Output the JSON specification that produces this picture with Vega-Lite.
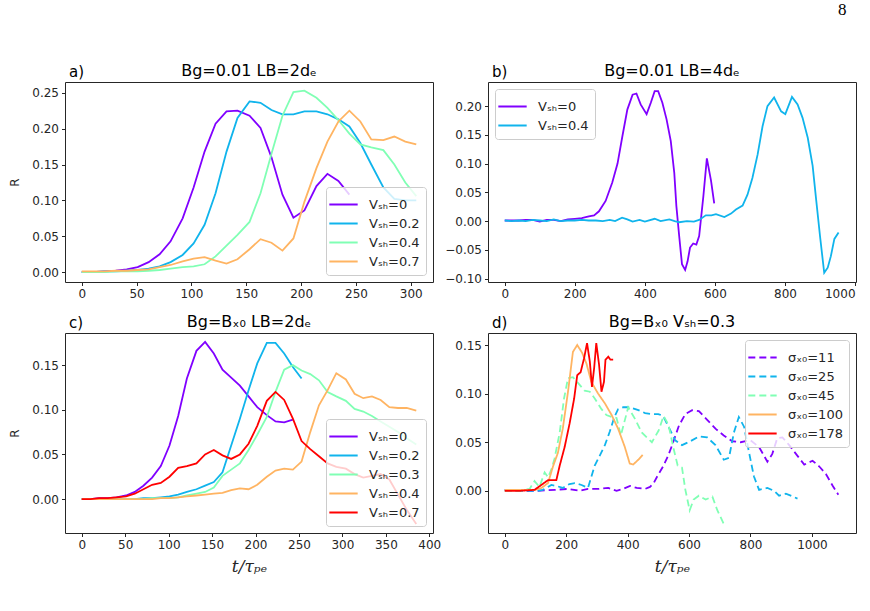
{
"$schema": "https://vega.github.io/schema/vega-lite/v6.json",
"background": "white",
"padding": {"left": 8, "top": 0, "right": 0, "bottom": 0},
"title": {"text": "8", "anchor": "end", "frame": "bounds", "font": "Liberation Serif", "fontSize": 17, "fontWeight": "normal", "color": "black", "offset": 44, "dx": -10},
"config": {
 "view": {"stroke": "#262626", "strokeWidth": 1},
 "axis": {"domain": false, "grid": false, "tickColor": "#262626", "tickSize": 3.5, "tickCount": 12, "labelFont": "DejaVu Sans", "labelFontSize": 12, "labelColor": "#262626", "labelPadding": 3, "titleFont": "DejaVu Sans", "titleFontSize": 12, "titleFontWeight": "normal", "titleColor": "#262626"},
 "legend": {"fillColor": "rgba(255,255,255,0.8)", "strokeColor": "#cccccc", "cornerRadius": 3, "padding": 6, "labelFont": "DejaVu Sans", "labelFontSize": 13, "labelColor": "#262626", "symbolType": "M-1.35,0H1.35", "symbolSize": 441, "symbolStrokeWidth": 2, "rowPadding": 0, "labelOffset": 14, "offset": 7},
 "title": {"font": "DejaVu Sans", "fontSize": 16, "fontWeight": "normal", "color": "black", "frame": "group", "offset": -14},
 "text": {"font": "DejaVu Sans", "fontSize": 15, "color": "black"}
},
"columns": 2,
"spacing": {"row": 51, "column": 55},
"bounds": "flush",
"resolve": {"scale": {"color": "independent", "strokeDash": "independent"}, "legend": {"color": "independent", "strokeDash": "independent"}},
"datasets": {
"a": [
{"s":"Vₛₕ=0","t":0,"R":0.000},{"s":"Vₛₕ=0","t":10,"R":0.000},{"s":"Vₛₕ=0","t":20,"R":0.001},{"s":"Vₛₕ=0","t":31,"R":0.002},{"s":"Vₛₕ=0","t":41,"R":0.004},{"s":"Vₛₕ=0","t":51,"R":0.007},{"s":"Vₛₕ=0","t":61,"R":0.014},{"s":"Vₛₕ=0","t":71,"R":0.025},{"s":"Vₛₕ=0","t":81,"R":0.043},{"s":"Vₛₕ=0","t":92,"R":0.075},{"s":"Vₛₕ=0","t":102,"R":0.118},{"s":"Vₛₕ=0","t":112,"R":0.168},{"s":"Vₛₕ=0","t":122,"R":0.207},{"s":"Vₛₕ=0","t":132,"R":0.224},{"s":"Vₛₕ=0","t":142,"R":0.225},{"s":"Vₛₕ=0","t":153,"R":0.218},{"s":"Vₛₕ=0","t":163,"R":0.201},{"s":"Vₛₕ=0","t":173,"R":0.160},{"s":"Vₛₕ=0","t":183,"R":0.108},{"s":"Vₛₕ=0","t":193,"R":0.076},{"s":"Vₛₕ=0","t":203,"R":0.086},{"s":"Vₛₕ=0","t":214,"R":0.120},{"s":"Vₛₕ=0","t":224,"R":0.137},{"s":"Vₛₕ=0","t":234,"R":0.127},{"s":"Vₛₕ=0","t":244,"R":0.108},
{"s":"Vₛₕ=0.2","t":0,"R":0.000},{"s":"Vₛₕ=0.2","t":10,"R":0.000},{"s":"Vₛₕ=0.2","t":20,"R":0.001},{"s":"Vₛₕ=0.2","t":31,"R":0.001},{"s":"Vₛₕ=0.2","t":41,"R":0.002},{"s":"Vₛₕ=0.2","t":51,"R":0.003},{"s":"Vₛₕ=0.2","t":61,"R":0.005},{"s":"Vₛₕ=0.2","t":71,"R":0.008},{"s":"Vₛₕ=0.2","t":81,"R":0.014},{"s":"Vₛₕ=0.2","t":92,"R":0.024},{"s":"Vₛₕ=0.2","t":102,"R":0.040},{"s":"Vₛₕ=0.2","t":112,"R":0.066},{"s":"Vₛₕ=0.2","t":122,"R":0.110},{"s":"Vₛₕ=0.2","t":132,"R":0.168},{"s":"Vₛₕ=0.2","t":142,"R":0.215},{"s":"Vₛₕ=0.2","t":153,"R":0.238},{"s":"Vₛₕ=0.2","t":163,"R":0.236},{"s":"Vₛₕ=0.2","t":173,"R":0.226},{"s":"Vₛₕ=0.2","t":183,"R":0.220},{"s":"Vₛₕ=0.2","t":193,"R":0.220},{"s":"Vₛₕ=0.2","t":203,"R":0.224},{"s":"Vₛₕ=0.2","t":214,"R":0.224},{"s":"Vₛₕ=0.2","t":224,"R":0.220},{"s":"Vₛₕ=0.2","t":234,"R":0.213},{"s":"Vₛₕ=0.2","t":244,"R":0.203},{"s":"Vₛₕ=0.2","t":254,"R":0.180},{"s":"Vₛₕ=0.2","t":264,"R":0.150},{"s":"Vₛₕ=0.2","t":275,"R":0.118},{"s":"Vₛₕ=0.2","t":285,"R":0.102},{"s":"Vₛₕ=0.2","t":295,"R":0.100},{"s":"Vₛₕ=0.2","t":305,"R":0.100},
{"s":"Vₛₕ=0.4","t":0,"R":0.000},{"s":"Vₛₕ=0.4","t":10,"R":0.000},{"s":"Vₛₕ=0.4","t":20,"R":0.000},{"s":"Vₛₕ=0.4","t":31,"R":0.001},{"s":"Vₛₕ=0.4","t":41,"R":0.001},{"s":"Vₛₕ=0.4","t":51,"R":0.001},{"s":"Vₛₕ=0.4","t":61,"R":0.002},{"s":"Vₛₕ=0.4","t":71,"R":0.003},{"s":"Vₛₕ=0.4","t":81,"R":0.005},{"s":"Vₛₕ=0.4","t":92,"R":0.007},{"s":"Vₛₕ=0.4","t":102,"R":0.008},{"s":"Vₛₕ=0.4","t":112,"R":0.011},{"s":"Vₛₕ=0.4","t":122,"R":0.022},{"s":"Vₛₕ=0.4","t":132,"R":0.037},{"s":"Vₛₕ=0.4","t":142,"R":0.052},{"s":"Vₛₕ=0.4","t":153,"R":0.070},{"s":"Vₛₕ=0.4","t":163,"R":0.110},{"s":"Vₛₕ=0.4","t":173,"R":0.165},{"s":"Vₛₕ=0.4","t":183,"R":0.218},{"s":"Vₛₕ=0.4","t":193,"R":0.251},{"s":"Vₛₕ=0.4","t":203,"R":0.253},{"s":"Vₛₕ=0.4","t":214,"R":0.243},{"s":"Vₛₕ=0.4","t":224,"R":0.229},{"s":"Vₛₕ=0.4","t":234,"R":0.212},{"s":"Vₛₕ=0.4","t":244,"R":0.193},{"s":"Vₛₕ=0.4","t":254,"R":0.178},{"s":"Vₛₕ=0.4","t":264,"R":0.174},{"s":"Vₛₕ=0.4","t":275,"R":0.170},{"s":"Vₛₕ=0.4","t":285,"R":0.150},{"s":"Vₛₕ=0.4","t":295,"R":0.125},{"s":"Vₛₕ=0.4","t":305,"R":0.106},
{"s":"Vₛₕ=0.7","t":0,"R":0.001},{"s":"Vₛₕ=0.7","t":10,"R":0.001},{"s":"Vₛₕ=0.7","t":20,"R":0.001},{"s":"Vₛₕ=0.7","t":31,"R":0.002},{"s":"Vₛₕ=0.7","t":41,"R":0.002},{"s":"Vₛₕ=0.7","t":51,"R":0.003},{"s":"Vₛₕ=0.7","t":61,"R":0.004},{"s":"Vₛₕ=0.7","t":71,"R":0.007},{"s":"Vₛₕ=0.7","t":81,"R":0.010},{"s":"Vₛₕ=0.7","t":92,"R":0.015},{"s":"Vₛₕ=0.7","t":102,"R":0.019},{"s":"Vₛₕ=0.7","t":112,"R":0.021},{"s":"Vₛₕ=0.7","t":122,"R":0.016},{"s":"Vₛₕ=0.7","t":132,"R":0.012},{"s":"Vₛₕ=0.7","t":142,"R":0.018},{"s":"Vₛₕ=0.7","t":153,"R":0.032},{"s":"Vₛₕ=0.7","t":163,"R":0.046},{"s":"Vₛₕ=0.7","t":173,"R":0.041},{"s":"Vₛₕ=0.7","t":183,"R":0.030},{"s":"Vₛₕ=0.7","t":193,"R":0.047},{"s":"Vₛₕ=0.7","t":203,"R":0.098},{"s":"Vₛₕ=0.7","t":214,"R":0.145},{"s":"Vₛₕ=0.7","t":224,"R":0.182},{"s":"Vₛₕ=0.7","t":234,"R":0.210},{"s":"Vₛₕ=0.7","t":244,"R":0.225},{"s":"Vₛₕ=0.7","t":254,"R":0.210},{"s":"Vₛₕ=0.7","t":264,"R":0.185},{"s":"Vₛₕ=0.7","t":275,"R":0.184},{"s":"Vₛₕ=0.7","t":285,"R":0.189},{"s":"Vₛₕ=0.7","t":295,"R":0.182},{"s":"Vₛₕ=0.7","t":305,"R":0.178}
],
"b": [
{"s":"Vₛₕ=0","t":0,"R":0.001},{"s":"Vₛₕ=0","t":20,"R":0.001},{"s":"Vₛₕ=0","t":40,"R":0.001},{"s":"Vₛₕ=0","t":60,"R":0.002},{"s":"Vₛₕ=0","t":80,"R":0.002},{"s":"Vₛₕ=0","t":100,"R":-0.001},{"s":"Vₛₕ=0","t":120,"R":0.002},{"s":"Vₛₕ=0","t":140,"R":0.002},{"s":"Vₛₕ=0","t":160,"R":0.000},{"s":"Vₛₕ=0","t":180,"R":0.003},{"s":"Vₛₕ=0","t":200,"R":0.004},{"s":"Vₛₕ=0","t":220,"R":0.005},{"s":"Vₛₕ=0","t":240,"R":0.008},{"s":"Vₛₕ=0","t":255,"R":0.010},{"s":"Vₛₕ=0","t":269,"R":0.017},{"s":"Vₛₕ=0","t":288,"R":0.035},{"s":"Vₛₕ=0","t":307,"R":0.067},{"s":"Vₛₕ=0","t":322,"R":0.100},{"s":"Vₛₕ=0","t":336,"R":0.148},{"s":"Vₛₕ=0","t":350,"R":0.194},{"s":"Vₛₕ=0","t":365,"R":0.220},{"s":"Vₛₕ=0","t":376,"R":0.222},{"s":"Vₛₕ=0","t":388,"R":0.203},{"s":"Vₛₕ=0","t":405,"R":0.186},{"s":"Vₛₕ=0","t":417,"R":0.206},{"s":"Vₛₕ=0","t":428,"R":0.226},{"s":"Vₛₕ=0","t":438,"R":0.226},{"s":"Vₛₕ=0","t":450,"R":0.206},{"s":"Vₛₕ=0","t":462,"R":0.177},{"s":"Vₛₕ=0","t":474,"R":0.139},{"s":"Vₛₕ=0","t":484,"R":0.084},{"s":"Vₛₕ=0","t":490,"R":0.026},{"s":"Vₛₕ=0","t":498,"R":-0.026},{"s":"Vₛₕ=0","t":506,"R":-0.075},{"s":"Vₛₕ=0","t":515,"R":-0.085},{"s":"Vₛₕ=0","t":522,"R":-0.070},{"s":"Vₛₕ=0","t":529,"R":-0.046},{"s":"Vₛₕ=0","t":538,"R":-0.039},{"s":"Vₛₕ=0","t":547,"R":-0.041},{"s":"Vₛₕ=0","t":555,"R":-0.026},{"s":"Vₛₕ=0","t":567,"R":0.043},{"s":"Vₛₕ=0","t":577,"R":0.109},{"s":"Vₛₕ=0","t":589,"R":0.070},{"s":"Vₛₕ=0","t":598,"R":0.031},
{"s":"Vₛₕ=0.4","t":0,"R":0.001},{"s":"Vₛₕ=0.4","t":20,"R":0.000},{"s":"Vₛₕ=0.4","t":40,"R":0.001},{"s":"Vₛₕ=0.4","t":60,"R":0.000},{"s":"Vₛₕ=0.4","t":80,"R":0.002},{"s":"Vₛₕ=0.4","t":100,"R":0.001},{"s":"Vₛₕ=0.4","t":120,"R":0.000},{"s":"Vₛₕ=0.4","t":140,"R":0.003},{"s":"Vₛₕ=0.4","t":160,"R":0.000},{"s":"Vₛₕ=0.4","t":180,"R":0.001},{"s":"Vₛₕ=0.4","t":200,"R":0.001},{"s":"Vₛₕ=0.4","t":220,"R":0.002},{"s":"Vₛₕ=0.4","t":240,"R":0.001},{"s":"Vₛₕ=0.4","t":260,"R":0.001},{"s":"Vₛₕ=0.4","t":280,"R":0.000},{"s":"Vₛₕ=0.4","t":300,"R":0.002},{"s":"Vₛₕ=0.4","t":315,"R":0.000},{"s":"Vₛₕ=0.4","t":335,"R":0.006},{"s":"Vₛₕ=0.4","t":350,"R":0.003},{"s":"Vₛₕ=0.4","t":365,"R":-0.001},{"s":"Vₛₕ=0.4","t":385,"R":0.002},{"s":"Vₛₕ=0.4","t":400,"R":-0.001},{"s":"Vₛₕ=0.4","t":428,"R":0.004},{"s":"Vₛₕ=0.4","t":445,"R":0.000},{"s":"Vₛₕ=0.4","t":470,"R":0.003},{"s":"Vₛₕ=0.4","t":485,"R":0.000},{"s":"Vₛₕ=0.4","t":498,"R":-0.002},{"s":"Vₛₕ=0.4","t":520,"R":0.000},{"s":"Vₛₕ=0.4","t":540,"R":-0.001},{"s":"Vₛₕ=0.4","t":555,"R":0.002},{"s":"Vₛₕ=0.4","t":574,"R":0.010},{"s":"Vₛₕ=0.4","t":590,"R":0.010},{"s":"Vₛₕ=0.4","t":603,"R":0.012},{"s":"Vₛₕ=0.4","t":627,"R":0.007},{"s":"Vₛₕ=0.4","t":646,"R":0.013},{"s":"Vₛₕ=0.4","t":660,"R":0.020},{"s":"Vₛₕ=0.4","t":679,"R":0.027},{"s":"Vₛₕ=0.4","t":693,"R":0.046},{"s":"Vₛₕ=0.4","t":707,"R":0.075},{"s":"Vₛₕ=0.4","t":722,"R":0.116},{"s":"Vₛₕ=0.4","t":736,"R":0.165},{"s":"Vₛₕ=0.4","t":750,"R":0.200},{"s":"Vₛₕ=0.4","t":769,"R":0.215},{"s":"Vₛₕ=0.4","t":789,"R":0.191},{"s":"Vₛₕ=0.4","t":801,"R":0.186},{"s":"Vₛₕ=0.4","t":820,"R":0.216},{"s":"Vₛₕ=0.4","t":836,"R":0.203},{"s":"Vₛₕ=0.4","t":850,"R":0.180},{"s":"Vₛₕ=0.4","t":865,"R":0.145},{"s":"Vₛₕ=0.4","t":879,"R":0.096},{"s":"Vₛₕ=0.4","t":888,"R":0.043},{"s":"Vₛₕ=0.4","t":900,"R":-0.026},{"s":"Vₛₕ=0.4","t":912,"R":-0.090},{"s":"Vₛₕ=0.4","t":922,"R":-0.081},{"s":"Vₛₕ=0.4","t":931,"R":-0.061},{"s":"Vₛₕ=0.4","t":941,"R":-0.031},{"s":"Vₛₕ=0.4","t":953,"R":-0.020}
],
"c": [
{"s":"Vₛₕ=0","t":0,"R":0.000},{"s":"Vₛₕ=0","t":10,"R":0.000},{"s":"Vₛₕ=0","t":20,"R":0.001},{"s":"Vₛₕ=0","t":30,"R":0.001},{"s":"Vₛₕ=0","t":40,"R":0.002},{"s":"Vₛₕ=0","t":51,"R":0.004},{"s":"Vₛₕ=0","t":61,"R":0.008},{"s":"Vₛₕ=0","t":71,"R":0.015},{"s":"Vₛₕ=0","t":81,"R":0.024},{"s":"Vₛₕ=0","t":91,"R":0.037},{"s":"Vₛₕ=0","t":101,"R":0.060},{"s":"Vₛₕ=0","t":111,"R":0.093},{"s":"Vₛₕ=0","t":121,"R":0.135},{"s":"Vₛₕ=0","t":132,"R":0.166},{"s":"Vₛₕ=0","t":142,"R":0.176},{"s":"Vₛₕ=0","t":152,"R":0.163},{"s":"Vₛₕ=0","t":162,"R":0.145},{"s":"Vₛₕ=0","t":172,"R":0.136},{"s":"Vₛₕ=0","t":182,"R":0.127},{"s":"Vₛₕ=0","t":192,"R":0.115},{"s":"Vₛₕ=0","t":202,"R":0.103},{"s":"Vₛₕ=0","t":213,"R":0.094},{"s":"Vₛₕ=0","t":223,"R":0.087},{"s":"Vₛₕ=0","t":233,"R":0.086},{"s":"Vₛₕ=0","t":243,"R":0.089},
{"s":"Vₛₕ=0.2","t":0,"R":0.000},{"s":"Vₛₕ=0.2","t":10,"R":0.000},{"s":"Vₛₕ=0.2","t":20,"R":0.000},{"s":"Vₛₕ=0.2","t":30,"R":0.000},{"s":"Vₛₕ=0.2","t":40,"R":0.000},{"s":"Vₛₕ=0.2","t":51,"R":0.000},{"s":"Vₛₕ=0.2","t":61,"R":0.000},{"s":"Vₛₕ=0.2","t":71,"R":0.001},{"s":"Vₛₕ=0.2","t":81,"R":0.001},{"s":"Vₛₕ=0.2","t":91,"R":0.002},{"s":"Vₛₕ=0.2","t":101,"R":0.003},{"s":"Vₛₕ=0.2","t":111,"R":0.005},{"s":"Vₛₕ=0.2","t":121,"R":0.008},{"s":"Vₛₕ=0.2","t":132,"R":0.011},{"s":"Vₛₕ=0.2","t":142,"R":0.015},{"s":"Vₛₕ=0.2","t":152,"R":0.019},{"s":"Vₛₕ=0.2","t":162,"R":0.030},{"s":"Vₛₕ=0.2","t":172,"R":0.060},{"s":"Vₛₕ=0.2","t":182,"R":0.090},{"s":"Vₛₕ=0.2","t":192,"R":0.122},{"s":"Vₛₕ=0.2","t":202,"R":0.152},{"s":"Vₛₕ=0.2","t":213,"R":0.175},{"s":"Vₛₕ=0.2","t":223,"R":0.175},{"s":"Vₛₕ=0.2","t":233,"R":0.163},{"s":"Vₛₕ=0.2","t":243,"R":0.148},{"s":"Vₛₕ=0.2","t":253,"R":0.135},
{"s":"Vₛₕ=0.3","t":0,"R":0.000},{"s":"Vₛₕ=0.3","t":10,"R":0.000},{"s":"Vₛₕ=0.3","t":20,"R":0.000},{"s":"Vₛₕ=0.3","t":30,"R":0.000},{"s":"Vₛₕ=0.3","t":40,"R":0.000},{"s":"Vₛₕ=0.3","t":51,"R":0.000},{"s":"Vₛₕ=0.3","t":61,"R":0.000},{"s":"Vₛₕ=0.3","t":71,"R":0.000},{"s":"Vₛₕ=0.3","t":81,"R":0.001},{"s":"Vₛₕ=0.3","t":91,"R":0.001},{"s":"Vₛₕ=0.3","t":101,"R":0.001},{"s":"Vₛₕ=0.3","t":111,"R":0.002},{"s":"Vₛₕ=0.3","t":121,"R":0.004},{"s":"Vₛₕ=0.3","t":132,"R":0.006},{"s":"Vₛₕ=0.3","t":142,"R":0.008},{"s":"Vₛₕ=0.3","t":152,"R":0.013},{"s":"Vₛₕ=0.3","t":162,"R":0.026},{"s":"Vₛₕ=0.3","t":172,"R":0.033},{"s":"Vₛₕ=0.3","t":182,"R":0.040},{"s":"Vₛₕ=0.3","t":192,"R":0.055},{"s":"Vₛₕ=0.3","t":202,"R":0.072},{"s":"Vₛₕ=0.3","t":213,"R":0.092},{"s":"Vₛₕ=0.3","t":223,"R":0.120},{"s":"Vₛₕ=0.3","t":233,"R":0.145},{"s":"Vₛₕ=0.3","t":243,"R":0.150},{"s":"Vₛₕ=0.3","t":253,"R":0.144},{"s":"Vₛₕ=0.3","t":263,"R":0.140},{"s":"Vₛₕ=0.3","t":273,"R":0.133},{"s":"Vₛₕ=0.3","t":283,"R":0.120},{"s":"Vₛₕ=0.3","t":293,"R":0.115},{"s":"Vₛₕ=0.3","t":304,"R":0.110},{"s":"Vₛₕ=0.3","t":314,"R":0.101},{"s":"Vₛₕ=0.3","t":324,"R":0.098},{"s":"Vₛₕ=0.3","t":334,"R":0.093},{"s":"Vₛₕ=0.3","t":344,"R":0.087},{"s":"Vₛₕ=0.3","t":354,"R":0.081},{"s":"Vₛₕ=0.3","t":364,"R":0.075},{"s":"Vₛₕ=0.3","t":374,"R":0.068},{"s":"Vₛₕ=0.3","t":385,"R":0.061},
{"s":"Vₛₕ=0.4","t":0,"R":0.000},{"s":"Vₛₕ=0.4","t":10,"R":0.000},{"s":"Vₛₕ=0.4","t":20,"R":0.000},{"s":"Vₛₕ=0.4","t":30,"R":0.000},{"s":"Vₛₕ=0.4","t":40,"R":0.000},{"s":"Vₛₕ=0.4","t":51,"R":0.000},{"s":"Vₛₕ=0.4","t":61,"R":0.000},{"s":"Vₛₕ=0.4","t":71,"R":0.000},{"s":"Vₛₕ=0.4","t":81,"R":0.000},{"s":"Vₛₕ=0.4","t":91,"R":0.001},{"s":"Vₛₕ=0.4","t":101,"R":0.001},{"s":"Vₛₕ=0.4","t":111,"R":0.002},{"s":"Vₛₕ=0.4","t":121,"R":0.003},{"s":"Vₛₕ=0.4","t":132,"R":0.004},{"s":"Vₛₕ=0.4","t":142,"R":0.005},{"s":"Vₛₕ=0.4","t":152,"R":0.006},{"s":"Vₛₕ=0.4","t":162,"R":0.007},{"s":"Vₛₕ=0.4","t":172,"R":0.010},{"s":"Vₛₕ=0.4","t":182,"R":0.012},{"s":"Vₛₕ=0.4","t":192,"R":0.011},{"s":"Vₛₕ=0.4","t":202,"R":0.016},{"s":"Vₛₕ=0.4","t":213,"R":0.025},{"s":"Vₛₕ=0.4","t":223,"R":0.032},{"s":"Vₛₕ=0.4","t":233,"R":0.034},{"s":"Vₛₕ=0.4","t":243,"R":0.033},{"s":"Vₛₕ=0.4","t":253,"R":0.042},{"s":"Vₛₕ=0.4","t":263,"R":0.075},{"s":"Vₛₕ=0.4","t":273,"R":0.105},{"s":"Vₛₕ=0.4","t":283,"R":0.122},{"s":"Vₛₕ=0.4","t":293,"R":0.141},{"s":"Vₛₕ=0.4","t":304,"R":0.134},{"s":"Vₛₕ=0.4","t":314,"R":0.118},{"s":"Vₛₕ=0.4","t":324,"R":0.113},{"s":"Vₛₕ=0.4","t":334,"R":0.115},{"s":"Vₛₕ=0.4","t":344,"R":0.111},{"s":"Vₛₕ=0.4","t":354,"R":0.103},{"s":"Vₛₕ=0.4","t":364,"R":0.102},{"s":"Vₛₕ=0.4","t":374,"R":0.102},{"s":"Vₛₕ=0.4","t":385,"R":0.099},
{"s":"Vₛₕ=0.7","t":0,"R":0.000},{"s":"Vₛₕ=0.7","t":10,"R":0.000},{"s":"Vₛₕ=0.7","t":20,"R":0.001},{"s":"Vₛₕ=0.7","t":30,"R":0.001},{"s":"Vₛₕ=0.7","t":40,"R":0.002},{"s":"Vₛₕ=0.7","t":51,"R":0.003},{"s":"Vₛₕ=0.7","t":61,"R":0.006},{"s":"Vₛₕ=0.7","t":71,"R":0.011},{"s":"Vₛₕ=0.7","t":81,"R":0.016},{"s":"Vₛₕ=0.7","t":91,"R":0.018},{"s":"Vₛₕ=0.7","t":101,"R":0.025},{"s":"Vₛₕ=0.7","t":111,"R":0.035},{"s":"Vₛₕ=0.7","t":121,"R":0.037},{"s":"Vₛₕ=0.7","t":132,"R":0.040},{"s":"Vₛₕ=0.7","t":142,"R":0.050},{"s":"Vₛₕ=0.7","t":152,"R":0.055},{"s":"Vₛₕ=0.7","t":162,"R":0.049},{"s":"Vₛₕ=0.7","t":172,"R":0.045},{"s":"Vₛₕ=0.7","t":182,"R":0.050},{"s":"Vₛₕ=0.7","t":192,"R":0.062},{"s":"Vₛₕ=0.7","t":202,"R":0.082},{"s":"Vₛₕ=0.7","t":213,"R":0.110},{"s":"Vₛₕ=0.7","t":223,"R":0.120},{"s":"Vₛₕ=0.7","t":233,"R":0.111},{"s":"Vₛₕ=0.7","t":243,"R":0.090},{"s":"Vₛₕ=0.7","t":253,"R":0.065},{"s":"Vₛₕ=0.7","t":263,"R":0.056},{"s":"Vₛₕ=0.7","t":273,"R":0.048},{"s":"Vₛₕ=0.7","t":283,"R":0.040},{"s":"Vₛₕ=0.7","t":293,"R":0.036},{"s":"Vₛₕ=0.7","t":304,"R":0.034},{"s":"Vₛₕ=0.7","t":314,"R":0.028},{"s":"Vₛₕ=0.7","t":324,"R":0.024},{"s":"Vₛₕ=0.7","t":334,"R":0.026},{"s":"Vₛₕ=0.7","t":344,"R":0.028},{"s":"Vₛₕ=0.7","t":354,"R":0.022},{"s":"Vₛₕ=0.7","t":364,"R":0.005},{"s":"Vₛₕ=0.7","t":374,"R":-0.012},{"s":"Vₛₕ=0.7","t":385,"R":-0.028}
],
"d": [
{"s":"σₓ₀=11","t":0,"R":0.001},{"s":"σₓ₀=11","t":50,"R":0.000},{"s":"σₓ₀=11","t":108,"R":0.000},{"s":"σₓ₀=11","t":163,"R":0.001},{"s":"σₓ₀=11","t":206,"R":0.002},{"s":"σₓ₀=11","t":244,"R":0.000},{"s":"σₓ₀=11","t":271,"R":0.002},{"s":"σₓ₀=11","t":304,"R":0.002},{"s":"σₓ₀=11","t":337,"R":0.003},{"s":"σₓ₀=11","t":364,"R":0.000},{"s":"σₓ₀=11","t":386,"R":0.002},{"s":"σₓ₀=11","t":408,"R":0.005},{"s":"σₓ₀=11","t":430,"R":0.003},{"s":"σₓ₀=11","t":457,"R":0.002},{"s":"σₓ₀=11","t":473,"R":0.004},{"s":"σₓ₀=11","t":485,"R":0.008},{"s":"σₓ₀=11","t":495,"R":0.014},{"s":"σₓ₀=11","t":517,"R":0.026},{"s":"σₓ₀=11","t":533,"R":0.037},{"s":"σₓ₀=11","t":545,"R":0.047},{"s":"σₓ₀=11","t":567,"R":0.067},{"s":"σₓ₀=11","t":588,"R":0.079},{"s":"σₓ₀=11","t":610,"R":0.083},{"s":"σₓ₀=11","t":632,"R":0.082},{"s":"σₓ₀=11","t":659,"R":0.073},{"s":"σₓ₀=11","t":686,"R":0.064},{"s":"σₓ₀=11","t":713,"R":0.057},{"s":"σₓ₀=11","t":741,"R":0.051},{"s":"σₓ₀=11","t":768,"R":0.050},{"s":"σₓ₀=11","t":800,"R":0.052},{"s":"σₓ₀=11","t":828,"R":0.045},{"s":"σₓ₀=11","t":855,"R":0.030},{"s":"σₓ₀=11","t":871,"R":0.038},{"s":"σₓ₀=11","t":887,"R":0.054},{"s":"σₓ₀=11","t":904,"R":0.055},{"s":"σₓ₀=11","t":926,"R":0.047},{"s":"σₓ₀=11","t":953,"R":0.036},{"s":"σₓ₀=11","t":975,"R":0.027},{"s":"σₓ₀=11","t":1002,"R":0.031},{"s":"σₓ₀=11","t":1024,"R":0.025},{"s":"σₓ₀=11","t":1046,"R":0.017},{"s":"σₓ₀=11","t":1068,"R":0.005},{"s":"σₓ₀=11","t":1086,"R":-0.004},
{"s":"σₓ₀=25","t":0,"R":0.001},{"s":"σₓ₀=25","t":50,"R":0.000},{"s":"σₓ₀=25","t":107,"R":0.000},{"s":"σₓ₀=25","t":124,"R":0.001},{"s":"σₓ₀=25","t":152,"R":0.006},{"s":"σₓ₀=25","t":168,"R":0.005},{"s":"σₓ₀=25","t":189,"R":0.003},{"s":"σₓ₀=25","t":211,"R":0.007},{"s":"σₓ₀=25","t":228,"R":0.008},{"s":"σₓ₀=25","t":250,"R":0.006},{"s":"σₓ₀=25","t":271,"R":0.003},{"s":"σₓ₀=25","t":293,"R":0.026},{"s":"σₓ₀=25","t":309,"R":0.036},{"s":"σₓ₀=25","t":326,"R":0.047},{"s":"σₓ₀=25","t":342,"R":0.061},{"s":"σₓ₀=25","t":357,"R":0.076},{"s":"σₓ₀=25","t":369,"R":0.084},{"s":"σₓ₀=25","t":386,"R":0.086},{"s":"σₓ₀=25","t":408,"R":0.086},{"s":"σₓ₀=25","t":435,"R":0.083},{"s":"σₓ₀=25","t":457,"R":0.080},{"s":"σₓ₀=25","t":479,"R":0.079},{"s":"σₓ₀=25","t":500,"R":0.079},{"s":"σₓ₀=25","t":516,"R":0.077},{"s":"σₓ₀=25","t":533,"R":0.066},{"s":"σₓ₀=25","t":555,"R":0.052},{"s":"σₓ₀=25","t":577,"R":0.047},{"s":"σₓ₀=25","t":604,"R":0.051},{"s":"σₓ₀=25","t":632,"R":0.056},{"s":"σₓ₀=25","t":659,"R":0.055},{"s":"σₓ₀=25","t":686,"R":0.047},{"s":"σₓ₀=25","t":713,"R":0.032},{"s":"σₓ₀=25","t":730,"R":0.034},{"s":"σₓ₀=25","t":746,"R":0.060},{"s":"σₓ₀=25","t":762,"R":0.076},{"s":"σₓ₀=25","t":779,"R":0.066},{"s":"σₓ₀=25","t":795,"R":0.040},{"s":"σₓ₀=25","t":811,"R":0.015},{"s":"σₓ₀=25","t":828,"R":0.001},{"s":"σₓ₀=25","t":855,"R":0.003},{"s":"σₓ₀=25","t":877,"R":0.000},{"s":"σₓ₀=25","t":893,"R":-0.005},{"s":"σₓ₀=25","t":915,"R":-0.003},{"s":"σₓ₀=25","t":931,"R":-0.005},{"s":"σₓ₀=25","t":953,"R":-0.008},
{"s":"σₓ₀=45","t":0,"R":0.000},{"s":"σₓ₀=45","t":50,"R":0.000},{"s":"σₓ₀=45","t":81,"R":0.002},{"s":"σₓ₀=45","t":97,"R":0.010},{"s":"σₓ₀=45","t":113,"R":0.004},{"s":"σₓ₀=45","t":130,"R":0.019},{"s":"σₓ₀=45","t":141,"R":0.014},{"s":"σₓ₀=45","t":152,"R":0.022},{"s":"σₓ₀=45","t":162,"R":0.033},{"s":"σₓ₀=45","t":179,"R":0.060},{"s":"σₓ₀=45","t":193,"R":0.095},{"s":"σₓ₀=45","t":206,"R":0.116},{"s":"σₓ₀=45","t":222,"R":0.117},{"s":"σₓ₀=45","t":244,"R":0.109},{"s":"σₓ₀=45","t":260,"R":0.103},{"s":"σₓ₀=45","t":277,"R":0.102},{"s":"σₓ₀=45","t":293,"R":0.095},{"s":"σₓ₀=45","t":315,"R":0.084},{"s":"σₓ₀=45","t":331,"R":0.078},{"s":"σₓ₀=45","t":348,"R":0.076},{"s":"σₓ₀=45","t":364,"R":0.075},{"s":"σₓ₀=45","t":378,"R":0.057},{"s":"σₓ₀=45","t":402,"R":0.086},{"s":"σₓ₀=45","t":424,"R":0.074},{"s":"σₓ₀=45","t":446,"R":0.060},{"s":"σₓ₀=45","t":479,"R":0.050},{"s":"σₓ₀=45","t":501,"R":0.062},{"s":"σₓ₀=45","t":517,"R":0.077},{"s":"σₓ₀=45","t":533,"R":0.068},{"s":"σₓ₀=45","t":550,"R":0.043},{"s":"σₓ₀=45","t":563,"R":0.026},{"s":"σₓ₀=45","t":577,"R":0.024},{"s":"σₓ₀=45","t":588,"R":0.001},{"s":"σₓ₀=45","t":602,"R":-0.020},{"s":"σₓ₀=45","t":615,"R":-0.009},{"s":"σₓ₀=45","t":632,"R":-0.005},{"s":"σₓ₀=45","t":654,"R":-0.009},{"s":"σₓ₀=45","t":676,"R":-0.006},{"s":"σₓ₀=45","t":692,"R":-0.020},{"s":"σₓ₀=45","t":713,"R":-0.034},
{"s":"σₓ₀=100","t":0,"R":0.001},{"s":"σₓ₀=100","t":50,"R":0.001},{"s":"σₓ₀=100","t":100,"R":0.001},{"s":"σₓ₀=100","t":120,"R":0.003},{"s":"σₓ₀=100","t":141,"R":0.008},{"s":"σₓ₀=100","t":157,"R":0.025},{"s":"σₓ₀=100","t":173,"R":0.039},{"s":"σₓ₀=100","t":189,"R":0.064},{"s":"σₓ₀=100","t":206,"R":0.102},{"s":"σₓ₀=100","t":222,"R":0.143},{"s":"σₓ₀=100","t":236,"R":0.150},{"s":"σₓ₀=100","t":252,"R":0.142},{"s":"σₓ₀=100","t":266,"R":0.131},{"s":"σₓ₀=100","t":282,"R":0.112},{"s":"σₓ₀=100","t":304,"R":0.100},{"s":"σₓ₀=100","t":326,"R":0.090},{"s":"σₓ₀=100","t":348,"R":0.078},{"s":"σₓ₀=100","t":369,"R":0.064},{"s":"σₓ₀=100","t":391,"R":0.045},{"s":"σₓ₀=100","t":407,"R":0.028},{"s":"σₓ₀=100","t":418,"R":0.027},{"s":"σₓ₀=100","t":435,"R":0.032},{"s":"σₓ₀=100","t":449,"R":0.037},
{"s":"σₓ₀=178","t":0,"R":0.000},{"s":"σₓ₀=178","t":50,"R":0.000},{"s":"σₓ₀=178","t":97,"R":0.001},{"s":"σₓ₀=178","t":119,"R":0.006},{"s":"σₓ₀=178","t":141,"R":0.011},{"s":"σₓ₀=178","t":168,"R":0.011},{"s":"σₓ₀=178","t":179,"R":0.026},{"s":"σₓ₀=178","t":195,"R":0.045},{"s":"σₓ₀=178","t":211,"R":0.069},{"s":"σₓ₀=178","t":226,"R":0.095},{"s":"σₓ₀=178","t":236,"R":0.119},{"s":"σₓ₀=178","t":247,"R":0.122},{"s":"σₓ₀=178","t":258,"R":0.136},{"s":"σₓ₀=178","t":268,"R":0.152},{"s":"σₓ₀=178","t":277,"R":0.133},{"s":"σₓ₀=178","t":284,"R":0.107},{"s":"σₓ₀=178","t":291,"R":0.126},{"s":"σₓ₀=178","t":298,"R":0.152},{"s":"σₓ₀=178","t":307,"R":0.130},{"s":"σₓ₀=178","t":315,"R":0.102},{"s":"σₓ₀=178","t":323,"R":0.112},{"s":"σₓ₀=178","t":328,"R":0.135},{"s":"σₓ₀=178","t":337,"R":0.138},{"s":"σₓ₀=178","t":344,"R":0.135},{"s":"σₓ₀=178","t":353,"R":0.135}
]
},
"concat": [
{
 "width": 368, "height": 200,
 "title": {"text": "Bg=0.01 LB=2dₑ"},
 "data": {"name": "a"},
 "layer": [
  {"mark": {"type": "line", "strokeWidth": 1.8},
   "encoding": {
    "x": {"field": "t", "type": "quantitative", "scale": {"domain": [-15.25, 320.25], "nice": false, "zero": false}, "axis": {"values": [0,50,100,150,200,250,300], "format": "d", "title": null}},
    "y": {"field": "R", "type": "quantitative", "scale": {"domain": [-0.0137, 0.265], "nice": false, "zero": false}, "axis": {"values": [0,0.05,0.1,0.15,0.2,0.25], "format": ".2f", "title": "R", "titlePadding": 10}},
    "color": {"field": "s", "type": "nominal", "scale": {"domain": ["Vₛₕ=0","Vₛₕ=0.2","Vₛₕ=0.4","Vₛₕ=0.7"], "range": ["#8000ff","#10b4ec","#80ffb4","#ffb462"]}, "legend": {"orient": "bottom-right", "title": null}}
   }},
  {"data": {"values": [{"lab": "a)"}]},
   "mark": {"type": "text", "align": "left", "baseline": "bottom", "dx": 4, "dy": -2},
   "encoding": {"x": {"datum": -15.25, "type": "quantitative"}, "y": {"datum": 0.265, "type": "quantitative"}, "text": {"field": "lab"}}}
 ]
},
{
 "width": 368, "height": 200,
 "title": {"text": "Bg=0.01 LB=4dₑ"},
 "data": {"name": "b"},
 "layer": [
  {"mark": {"type": "line", "strokeWidth": 1.8},
   "encoding": {
    "x": {"field": "t", "type": "quantitative", "scale": {"domain": [-47.75, 1002.75], "nice": false, "zero": false}, "axis": {"values": [0,200,400,600,800,1000], "format": "d", "title": null}},
    "y": {"field": "R", "type": "quantitative", "scale": {"domain": [-0.106, 0.242], "nice": false, "zero": false}, "axis": {"values": [-0.1,-0.05,0,0.05,0.1,0.15,0.2], "format": ".2f", "title": null}},
    "color": {"field": "s", "type": "nominal", "scale": {"domain": ["Vₛₕ=0","Vₛₕ=0.4"], "range": ["#8000ff","#10b4ec"]}, "legend": {"orient": "top-left", "title": null}}
   }},
  {"data": {"values": [{"lab": "b)"}]},
   "mark": {"type": "text", "align": "left", "baseline": "bottom", "dx": 4, "dy": -2},
   "encoding": {"x": {"datum": -47.75, "type": "quantitative"}, "y": {"datum": 0.242, "type": "quantitative"}, "text": {"field": "lab"}}}
 ]
},
{
 "width": 368, "height": 200,
 "title": {"text": "Bg=Bₓ₀ LB=2dₑ"},
 "data": {"name": "c"},
 "layer": [
  {"mark": {"type": "line", "strokeWidth": 1.8},
   "encoding": {
    "x": {"field": "t", "type": "quantitative", "scale": {"domain": [-19.25, 404.25], "nice": false, "zero": false}, "axis": {"values": [0,50,100,150,200,250,300,350,400], "format": "d", "title": "t/τₚₑ", "titleFont": "DejaVu Serif", "titleFontStyle": "italic", "titleFontSize": 17, "titlePadding": 8}},
    "y": {"field": "R", "type": "quantitative", "scale": {"domain": [-0.038, 0.186], "nice": false, "zero": false}, "axis": {"values": [0,0.05,0.1,0.15], "format": ".2f", "title": "R", "titlePadding": 10}},
    "color": {"field": "s", "type": "nominal", "scale": {"domain": ["Vₛₕ=0","Vₛₕ=0.2","Vₛₕ=0.3","Vₛₕ=0.4","Vₛₕ=0.7"], "range": ["#8000ff","#10b4ec","#80ffb4","#ffb462","#ff0000"]}, "legend": {"orient": "bottom-right", "title": null}}
   }},
  {"data": {"values": [{"lab": "c)"}]},
   "mark": {"type": "text", "align": "left", "baseline": "bottom", "dx": 4, "dy": -2},
   "encoding": {"x": {"datum": -19.25, "type": "quantitative"}, "y": {"datum": 0.186, "type": "quantitative"}, "text": {"field": "lab"}}}
 ]
},
{
 "width": 368, "height": 200,
 "title": {"text": "Bg=Bₓ₀ Vₛₕ=0.3"},
 "data": {"name": "d"},
 "layer": [
  {"mark": {"type": "line", "strokeWidth": 1.8},
   "encoding": {
    "x": {"field": "t", "type": "quantitative", "scale": {"domain": [-54.45, 1143.45], "nice": false, "zero": false}, "axis": {"values": [0,200,400,600,800,1000], "format": "d", "title": "t/τₚₑ", "titleFont": "DejaVu Serif", "titleFontStyle": "italic", "titleFontSize": 17, "titlePadding": 8}},
    "y": {"field": "R", "type": "quantitative", "scale": {"domain": [-0.0434, 0.1624], "nice": false, "zero": false}, "axis": {"values": [0,0.05,0.1,0.15], "format": ".2f", "title": null}},
    "color": {"field": "s", "type": "nominal", "scale": {"domain": ["σₓ₀=11","σₓ₀=25","σₓ₀=45","σₓ₀=100","σₓ₀=178"], "range": ["#8000ff","#10b4ec","#80ffb4","#ffb462","#ff0000"]}, "legend": {"orient": "top-right", "title": null}},
    "strokeDash": {"field": "s", "type": "nominal", "scale": {"domain": ["σₓ₀=11","σₓ₀=25","σₓ₀=45","σₓ₀=100","σₓ₀=178"], "range": [[7,4],[7,4],[7,4],[1,0],[1,0]]}, "legend": {"orient": "top-right", "title": null}}
   }},
  {"data": {"values": [{"lab": "d)"}]},
   "mark": {"type": "text", "align": "left", "baseline": "bottom", "dx": 4, "dy": -2},
   "encoding": {"x": {"datum": -54.45, "type": "quantitative"}, "y": {"datum": 0.1624, "type": "quantitative"}, "text": {"field": "lab"}}}
 ]
}
]
}
